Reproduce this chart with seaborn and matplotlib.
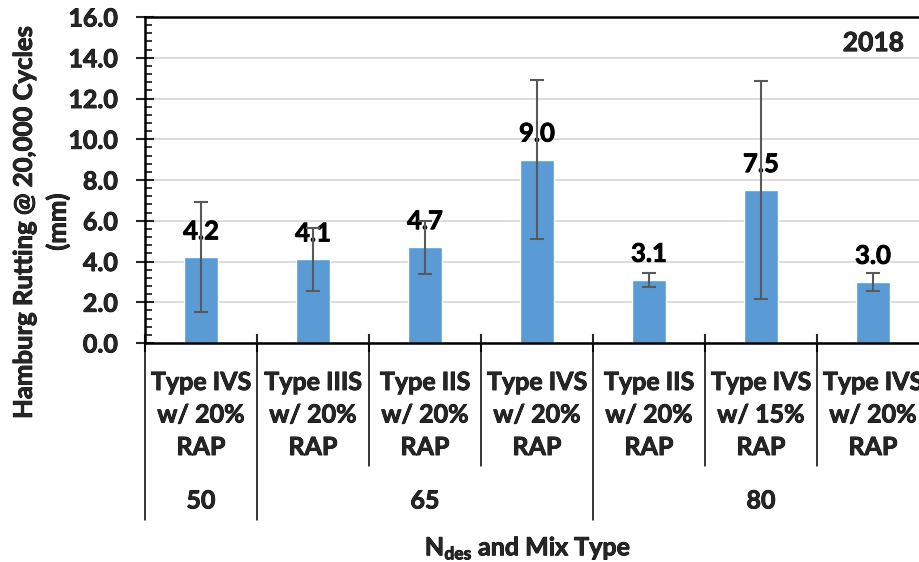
import matplotlib
matplotlib.use("Agg")
import matplotlib.pyplot as plt
import matplotlib.transforms as mtrans
import matplotlib.patheffects as pe
from matplotlib.ticker import MultipleLocator, FormatStrFormatter
import seaborn as sns
import pandas as pd
import numpy as np

# ---- data ----
mix_labels = ["Type IVS\nw/ 20%\nRAP", "Type IIIS\nw/ 20%\nRAP", "Type IIS\nw/ 20%\nRAP",
              "Type IVS\nw/ 20%\nRAP", "Type IIS\nw/ 20%\nRAP", "Type IVS\nw/ 15%\nRAP",
              "Type IVS\nw/ 20%\nRAP"]
ndes_groups = ["50", "65", "80"]
group_sizes = [1, 3, 3]
rutting = [4.2, 4.1, 4.7, 9.0, 3.1, 7.5, 3.0]
rut_err = [2.7, 1.55, 1.3, 3.9, 0.35, 5.35, 0.45]
year_label = "2018"

sns.set_theme(style="white")
plt.rcParams['font.family'] = ['Lato', 'DejaVu Sans']
plt.rcParams['mathtext.fontset'] = 'custom'
plt.rcParams['mathtext.rm'] = 'Lato'
plt.rcParams['mathtext.bf'] = 'Lato:bold'

THICK = [pe.withStroke(linewidth=0.6, foreground="black")]

df = pd.DataFrame({"idx": [str(i) for i in range(len(rutting))], "rut": rutting})

fig = plt.figure(figsize=(9.2, 5.62), dpi=100)
ax = fig.add_axes([145 / 920, (562 - 343) / 562, 784 / 920, 326 / 562])

sns.barplot(data=df, x="idx", y="rut", color="#5B9BD5", saturation=1, width=0.31,
            errorbar=None, ax=ax, zorder=2)
xs = np.arange(len(rutting))
ax.errorbar(xs, rutting, yerr=rut_err, fmt="none", ecolor="#595959", elinewidth=1.5,
            capsize=5, capthick=1.5, zorder=5)

for x, v in zip(xs, rutting):
    ax.annotate(f"{v:.1f}", xy=(x, v), xytext=(0, 13), textcoords="offset points",
                ha="center", va="baseline", fontsize=18.5, fontweight="bold", color="black",
                zorder=4, path_effects=THICK)

ax.set_xlim(-0.5, len(rutting) - 0.5)
ax.set_ylim(0, 16)
ax.yaxis.set_major_locator(MultipleLocator(2))
ax.yaxis.set_minor_locator(MultipleLocator(0.4))
ax.yaxis.set_major_formatter(FormatStrFormatter("%.1f"))
ax.grid(axis="y", color="#d9d9d9", linewidth=1.3, zorder=0)
ax.set_axisbelow(True)

ax.tick_params(axis="y", which="major", direction="inout", length=13, width=1.5,
               labelsize=18, pad=13, left=True)
ax.tick_params(axis="y", which="minor", direction="in", length=5, width=1.3, left=True)
for lab in ax.get_yticklabels():
    lab.set_fontweight("bold")
    lab.set_path_effects(THICK)

# x ticks at category boundaries
ax.set_xticks(np.arange(-0.5, len(rutting), 1.0))
ax.set_xticklabels([])
ax.tick_params(axis="x", which="major", direction="inout", length=13, width=1.5, bottom=True)

for side in ["left", "bottom", "top"]:
    ax.spines[side].set_visible(True)
    ax.spines[side].set_color("black")
    ax.spines[side].set_linewidth(1.8)
ax.spines["right"].set_visible(False)

# category labels
for x, lab in zip(xs, mix_labels):
    ax.annotate(lab, xy=(x, 0), xycoords=("data", "axes fraction"), xytext=(0, -72),
                textcoords="offset pixels", ha="center", va="center", fontsize=18,
                fontweight="bold", linespacing=1.5, annotation_clip=False, path_effects=THICK)

# group labels and separators
trans = mtrans.blended_transform_factory(ax.transData, ax.transAxes)
start = 0
long_bounds = [-0.5]
for g, n in zip(ndes_groups, group_sizes):
    center = start + (n - 1) / 2
    ax.annotate(g, xy=(center, 0), xycoords=("data", "axes fraction"), xytext=(0, -158),
                textcoords="offset pixels", ha="center", va="center", fontsize=18,
                fontweight="bold", annotation_clip=False, path_effects=THICK)
    start += n
    long_bounds.append(start - 0.5)
for b in np.arange(-0.5, len(rutting), 1.0):
    y_end = -0.543 if b in long_bounds else -0.377
    ax.plot([b, b], [0, y_end], transform=trans, color="black", lw=1.1, clip_on=False)

ax.text(0.929, 0.92, year_label, transform=ax.transAxes, ha="center", va="center",
        fontsize=19, fontweight="bold", path_effects=THICK)

ax.set_ylabel("Hamburg Rutting @ 20,000 Cycles\n(mm)", fontsize=18.5, fontweight="bold",
              va="center", linespacing=1.42, path_effects=THICK)
ax.yaxis.set_label_coords(-0.1327, 0.371)
ax.set_xlabel(r"N$_{\mathbf{des}}$ and Mix Type", fontsize=18, fontweight="bold", va="center",
              path_effects=THICK)
ax.xaxis.set_label_coords(0.4885, -0.629)

fig.savefig("out.png", dpi=100)
